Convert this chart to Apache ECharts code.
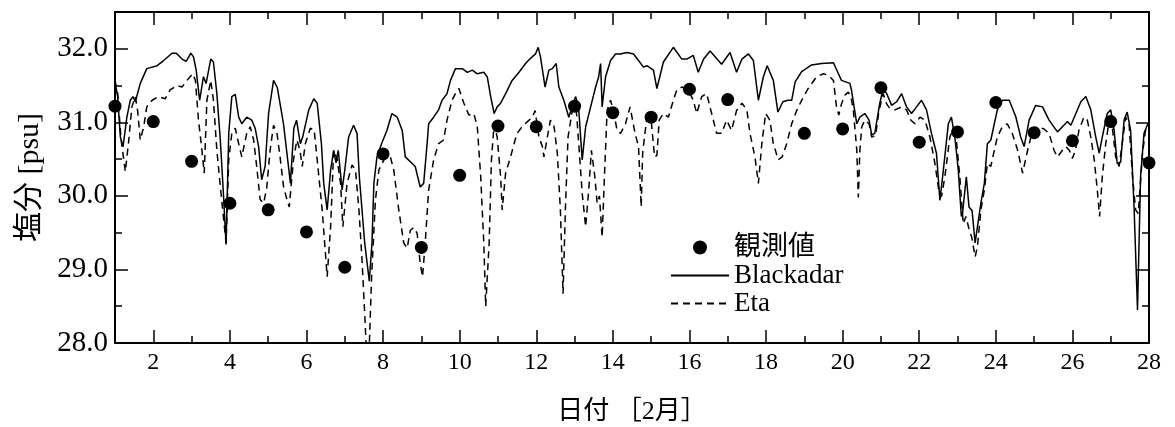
<!DOCTYPE html>
<html>
<head>
<meta charset="utf-8">
<script src="https://cdn.jsdelivr.net/npm/echarts@6/dist/echarts.min.js"></script>
<style>
html,body{margin:0;padding:0;background:#fff;}
#chart{width:1175px;height:427px;}
</style>
</head>
<body>
<div id="chart"></div>
<script>
// ---- data ----
const obsDays = [1,2,3,4,5,6,7,8,9,10,11,12,13,14,15,16,17,19,20,21,22,23,24,25,26,27,28];
const obsValues = [31.22,31.01,30.47,29.90,29.81,29.51,29.03,30.57,29.30,30.28,30.95,30.94,31.22,31.13,31.07,31.45,31.31,30.85,30.91,31.47,30.73,30.87,31.27,30.86,30.75,31.01,30.45];

const blackadar = [[1.0,31.55],[1.07,31.35],[1.14,30.8],[1.21,30.67],[1.31,31.07],[1.40,31.3],[1.47,31.35],[1.53,31.28],[1.66,31.53],[1.83,31.73],[2.10,31.77],[2.27,31.84],[2.49,31.94],[2.60,31.94],[2.75,31.86],[2.86,31.83],[2.98,31.94],[3.05,31.89],[3.12,31.71],[3.21,31.30],[3.31,31.62],[3.38,31.53],[3.50,31.86],[3.57,31.82],[3.66,31.39],[3.75,30.76],[3.83,30.04],[3.90,29.34],[3.97,30.85],[4.05,31.35],[4.14,31.38],[4.23,31.07],[4.31,30.98],[4.44,31.07],[4.57,31.03],[4.66,30.92],[4.75,30.67],[4.83,30.22],[4.92,30.40],[5.01,31.12],[5.14,31.57],[5.24,31.47],[5.40,30.98],[5.53,30.40],[5.58,30.17],[5.67,30.92],[5.74,31.03],[5.84,30.71],[5.90,30.8],[6.06,31.17],[6.19,31.32],[6.28,31.26],[6.39,30.71],[6.45,30.17],[6.54,29.81],[6.63,30.35],[6.71,30.62],[6.77,30.45],[6.83,30.62],[6.93,30.08],[7.0,30.35],[7.10,30.8],[7.23,30.96],[7.32,30.85],[7.38,30.26],[7.52,29.36],[7.64,28.84],[7.71,29.36],[7.76,30.17],[7.84,30.53],[7.96,30.71],[8.10,30.89],[8.23,31.12],[8.37,31.07],[8.50,30.89],[8.58,30.53],[8.76,30.44],[8.84,30.40],[8.97,30.12],[9.06,30.17],[9.15,30.71],[9.19,30.98],[9.32,31.07],[9.45,31.17],[9.54,31.30],[9.67,31.39],[9.76,31.57],[9.89,31.73],[9.94,31.75],[10.07,31.73],[10.2,31.68],[10.33,31.71],[10.46,31.66],[10.63,31.68],[10.72,31.62],[10.81,31.35],[10.90,31.12],[10.98,31.21],[11.07,31.26],[11.2,31.39],[11.37,31.57],[11.55,31.68],[11.72,31.8],[11.85,31.87],[11.98,31.93],[12.05,32.02],[12.11,31.89],[12.23,31.48],[12.33,31.71],[12.42,31.73],[12.52,31.8],[12.59,31.48],[12.72,31.30],[12.85,31.07],[12.96,31.26],[13.03,31.35],[13.11,31.17],[13.2,30.49],[13.29,30.94],[13.42,31.21],[13.55,31.48],[13.63,31.62],[13.68,31.80],[13.72,31.21],[13.81,31.62],[13.94,31.84],[14.07,31.93],[14.19,31.93],[14.37,31.95],[14.54,31.93],[14.67,31.84],[14.80,31.75],[14.89,31.77],[15.06,31.71],[15.15,31.46],[15.32,31.82],[15.58,32.02],[15.80,31.86],[15.93,31.86],[16.10,31.91],[16.23,31.68],[16.37,31.86],[16.54,31.97],[16.84,31.79],[17.06,31.95],[17.23,31.68],[17.37,31.86],[17.54,31.93],[17.67,31.84],[17.80,31.30],[17.93,31.62],[18.03,31.77],[18.19,31.57],[18.31,31.14],[18.44,31.28],[18.57,31.3],[18.67,31.3],[18.76,31.55],[18.93,31.69],[19.19,31.78],[19.45,31.8],[19.76,31.81],[19.89,31.66],[19.97,31.57],[20.08,31.55],[20.19,31.53],[20.23,31.44],[20.37,30.98],[20.45,31.07],[20.58,31.12],[20.69,31.03],[20.76,30.83],[20.84,30.85],[20.97,31.26],[21.06,31.46],[21.15,31.39],[21.28,31.23],[21.41,31.28],[21.54,31.39],[21.67,31.21],[21.80,31.12],[21.93,31.21],[22.06,31.3],[22.19,31.17],[22.32,30.85],[22.45,30.58],[22.54,29.94],[22.63,30.35],[22.76,30.98],[22.84,31.07],[22.93,30.8],[23.02,30.35],[23.10,29.72],[23.13,29.76],[23.23,30.26],[23.30,29.85],[23.38,29.8],[23.46,29.36],[23.52,29.58],[23.61,29.9],[23.70,30.17],[23.78,30.71],[23.87,30.76],[23.96,30.98],[24.04,31.17],[24.17,31.3],[24.35,31.3],[24.52,31.08],[24.65,30.8],[24.74,30.67],[24.87,31.03],[25.04,31.23],[25.22,31.21],[25.39,31.03],[25.61,30.87],[25.74,30.94],[25.87,31.01],[25.96,30.96],[26.09,31.12],[26.22,31.28],[26.35,31.35],[26.48,31.17],[26.61,30.8],[26.70,30.58],[26.78,30.8],[26.91,31.12],[27.0,31.17],[27.09,30.89],[27.17,30.44],[27.26,30.46],[27.35,31.03],[27.43,31.14],[27.52,30.89],[27.61,29.85],[27.70,28.45],[27.78,30.26],[27.87,30.85],[27.97,30.98],[28.0,30.99]];

const eta = [[1.0,31.57],[1.07,31.39],[1.16,30.76],[1.27,30.33],[1.36,30.76],[1.44,31.21],[1.53,31.35],[1.59,31.16],[1.66,30.76],[1.75,30.94],[1.83,31.21],[1.97,31.3],[2.14,31.35],[2.31,31.32],[2.44,31.44],[2.62,31.5],[2.75,31.48],[2.88,31.57],[3.03,31.66],[3.10,31.57],[3.18,31.03],[3.27,30.62],[3.33,30.31],[3.40,31.3],[3.50,31.57],[3.57,31.3],[3.66,30.62],[3.75,30.13],[3.83,29.72],[3.90,29.36],[3.97,30.49],[4.05,30.85],[4.14,30.92],[4.23,30.71],[4.31,30.53],[4.44,30.85],[4.53,30.94],[4.62,30.76],[4.70,30.40],[4.79,29.95],[4.88,29.9],[4.96,30.1],[5.05,30.62],[5.14,30.96],[5.23,30.85],[5.31,30.53],[5.40,30.13],[5.49,29.95],[5.55,29.85],[5.66,30.49],[5.75,30.76],[5.83,30.62],[5.89,30.4],[5.97,30.71],[6.10,30.92],[6.20,30.9],[6.28,30.49],[6.41,29.81],[6.54,28.9],[6.63,29.58],[6.71,30.62],[6.80,30.5],[6.89,30.17],[6.95,29.58],[7.06,30.17],[7.19,30.42],[7.28,30.35],[7.37,29.81],[7.45,29.13],[7.53,28.3],[7.57,27.8],[7.63,27.8],[7.70,28.9],[7.80,29.94],[7.89,30.35],[8.06,30.53],[8.19,30.53],[8.28,30.35],[8.41,29.81],[8.54,29.36],[8.63,29.29],[8.71,29.53],[8.80,29.57],[8.89,29.49],[8.97,29.08],[9.03,28.9],[9.10,29.36],[9.19,30.08],[9.32,30.49],[9.45,30.71],[9.58,30.76],[9.67,31.03],[9.80,31.30],[9.90,31.40],[9.98,31.46],[10.11,31.26],[10.24,31.1],[10.37,31.12],[10.46,30.94],[10.55,30.26],[10.63,29.36],[10.68,28.5],[10.77,29.36],[10.83,30.49],[10.90,30.98],[10.98,30.8],[11.07,30.26],[11.11,29.81],[11.20,30.31],[11.33,30.53],[11.42,30.71],[11.5,30.85],[11.63,30.94],[11.77,31.01],[11.90,31.07],[11.97,31.16],[12.07,30.8],[12.16,30.67],[12.20,30.53],[12.29,30.8],[12.37,31.03],[12.46,30.96],[12.55,30.58],[12.63,29.81],[12.70,28.67],[12.76,29.81],[12.83,30.8],[12.94,31.16],[13.04,31.21],[13.11,30.71],[13.2,30.03],[13.29,29.58],[13.37,30.08],[13.44,30.62],[13.53,30.26],[13.59,29.9],[13.65,30.0],[13.72,29.44],[13.78,30.26],[13.85,31.16],[13.94,31.3],[14.03,31.12],[14.11,30.89],[14.2,30.85],[14.33,30.98],[14.45,31.21],[14.58,30.85],[14.67,30.67],[14.74,29.85],[14.78,30.6],[14.89,31.07],[15.0,31.03],[15.09,30.53],[15.15,30.55],[15.21,31.03],[15.32,31.12],[15.45,31.07],[15.58,31.3],[15.67,31.44],[15.80,31.48],[15.97,31.44],[16.10,31.3],[16.19,31.12],[16.32,31.35],[16.45,31.39],[16.58,31.12],[16.71,30.85],[16.84,30.85],[16.97,31.03],[17.10,30.89],[17.23,31.16],[17.37,31.26],[17.50,31.17],[17.58,30.85],[17.71,30.53],[17.80,30.17],[17.89,30.71],[17.99,31.12],[18.10,31.03],[18.19,30.71],[18.32,30.49],[18.42,30.53],[18.54,30.71],[18.67,30.98],[18.80,31.16],[18.93,31.3],[19.10,31.46],[19.32,31.62],[19.50,31.66],[19.63,31.64],[19.76,31.57],[19.84,31.21],[19.90,31.1],[19.97,31.25],[20.06,31.37],[20.15,31.41],[20.22,31.34],[20.28,31.16],[20.37,30.62],[20.41,29.98],[20.45,30.62],[20.50,30.94],[20.58,31.03],[20.69,30.98],[20.76,30.8],[20.86,30.82],[20.95,31.16],[21.06,31.39],[21.15,31.25],[21.23,31.19],[21.37,31.17],[21.54,31.21],[21.67,31.17],[21.78,31.03],[21.89,30.98],[22.02,31.07],[22.15,31.03],[22.28,30.8],[22.41,30.44],[22.51,30.08],[22.58,29.99],[22.67,30.26],[22.80,30.8],[22.88,30.9],[22.97,30.76],[23.06,30.26],[23.15,29.62],[23.22,29.72],[23.30,29.55],[23.37,29.44],[23.46,29.17],[23.52,29.31],[23.61,29.81],[23.70,30.08],[23.78,30.44],[23.87,30.4],[23.96,30.62],[24.04,30.8],[24.17,30.94],[24.30,30.98],[24.43,30.85],[24.57,30.62],[24.70,30.31],[24.83,30.62],[24.96,30.89],[25.09,30.94],[25.26,30.91],[25.39,30.85],[25.52,30.62],[25.61,30.53],[25.74,30.62],[25.83,30.67],[25.92,30.62],[26.0,30.51],[26.08,30.62],[26.17,30.89],[26.30,31.07],[26.39,31.03],[26.48,30.8],[26.57,30.49],[26.65,30.08],[26.71,29.72],[26.78,30.26],[26.87,30.71],[26.96,31.03],[27.04,30.94],[27.13,30.53],[27.22,30.40],[27.30,30.71],[27.39,31.07],[27.48,30.98],[27.57,30.26],[27.65,29.81],[27.72,29.76],[27.83,30.58],[27.91,30.89],[28.0,30.99]];

const xMajorTicks = [2,4,6,8,10,12,14,16,18,20,22,24,26,28];
const yMajorTicks = [28,29,30,31,32];
const seriesNames = ['観測値','Blackadar','Eta'];
const xTitle = '日付 ［2月］';
const yTitle = '塩分 [psu]';

// ---- chart ----
const FONT = '"Liberation Serif", "Noto Sans CJK JP", serif';
const chart = echarts.init(document.getElementById('chart'), null, {renderer: 'canvas'});
const lineC = '#000';
function xAx(pos, major, withLabel) {
  const a = {
    type: 'value', min: 1, max: 28, position: pos,
    splitLine: {show: false},
    axisLine: {show: !major, onZero: false, lineStyle: {color: lineC, width: 2}},
    axisTick: {show: true, inside: true, length: major ? 13 : 7, lineStyle: {color: lineC, width: 1.5}},
    axisLabel: {show: false}
  };
  if (major) {
    a.axisTick.customValues = xMajorTicks;
    if (withLabel) {
      a.axisLabel = {show: true, customValues: xMajorTicks, fontFamily: FONT, fontSize: 24, color: '#000', margin: 8};
      a.name = xTitle; a.nameLocation = 'middle'; a.nameGap = 56;
      a.nameTextStyle = {fontFamily: FONT, fontSize: 26, color: '#000'};
    }
  } else {
    a.interval = 1;
  }
  return a;
}
function yAx(pos, major, withLabel) {
  const a = {
    type: 'value', min: 28, max: 32.5, position: pos,
    splitLine: {show: false},
    axisLine: {show: !major, onZero: false, lineStyle: {color: lineC, width: 2}},
    axisTick: {show: true, inside: true, length: major ? 13 : 7, lineStyle: {color: lineC, width: 1.5}},
    axisLabel: {show: false}
  };
  if (major) {
    a.axisTick.customValues = yMajorTicks;
    if (withLabel) {
      a.axisLabel = {show: true, customValues: yMajorTicks, fontFamily: FONT, fontSize: 29, color: '#000', margin: 7,
        formatter: v => Number(v).toFixed(1)};
      a.name = yTitle; a.nameLocation = 'middle'; a.nameGap = 70; a.nameRotate = 90;
      a.nameTextStyle = {fontFamily: FONT, fontSize: 30, color: '#000'};
    }
  } else {
    a.interval = 0.5;
  }
  return a;
}

chart.setOption({
  animation: false,
  backgroundColor: '#fff',
  grid: {left: 115, right: 26, top: 12, bottom: 84, containLabel: false, outerBoundsMode: 'none'},
  xAxis: [xAx('bottom', false), xAx('bottom', true, true), xAx('top', false), xAx('top', true, false)],
  yAxis: [yAx('left', false), yAx('left', true, true), yAx('right', false), yAx('right', true, false)],
  legend: {
    orient: 'vertical', left: 665, top: 229, itemWidth: 58, itemHeight: 14, itemGap: 1,
    data: [
      {name: seriesNames[0]},
      {name: seriesNames[1], itemStyle: {opacity: 0}},
      {name: seriesNames[2], itemStyle: {opacity: 0}}
    ],
    textStyle: {fontFamily: FONT, fontSize: 27, color: '#000'}
  },
  series: [
    {
      name: seriesNames[1], type: 'line', data: blackadar, xAxisIndex: 0, yAxisIndex: 0,
      symbol: 'none', lineStyle: {color: '#000', width: 1.5}, itemStyle: {color: '#000'}, z: 2
    },
    {
      name: seriesNames[2], type: 'line', data: eta, xAxisIndex: 0, yAxisIndex: 0,
      symbol: 'none', lineStyle: {color: '#000', width: 1.5, type: [7, 5]}, itemStyle: {color: '#000'}, z: 2
    },
    {
      name: seriesNames[0], type: 'scatter', xAxisIndex: 0, yAxisIndex: 0,
      data: obsDays.map((d, i) => [d, obsValues[i]]),
      symbol: 'circle', symbolSize: 13, itemStyle: {color: '#000', opacity: 1}, z: 5
    }
  ]
});
</script>
</body>
</html>
